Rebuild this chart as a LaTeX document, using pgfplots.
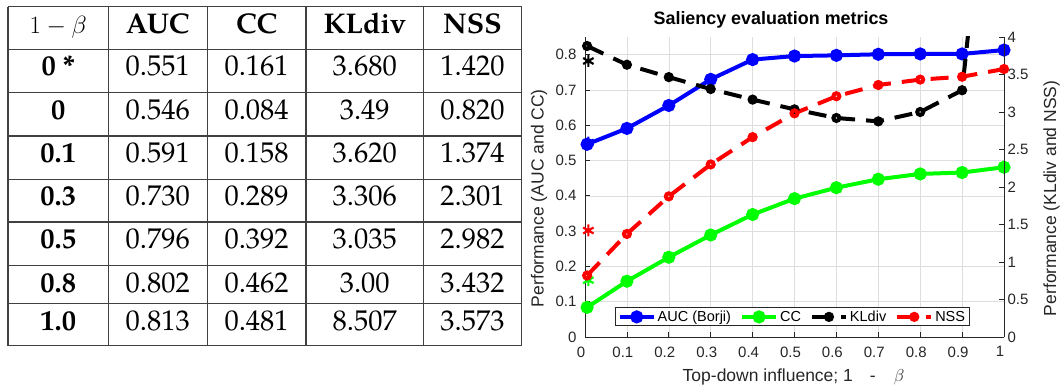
\documentclass[border=0pt]{standalone}
\usepackage{fontspec}
\setmainfont{Liberation Sans}
\newfontfamily\pag{TeX Gyre Pagella}
\usepackage{pgfplots}
\pgfplotsset{compat=1.18}
\definecolor{axgray}{gray}{0.15}
\definecolor{tabline}{gray}{0.25}
\definecolor{mblue}{rgb}{0,0,1}
\definecolor{mgreen}{rgb}{0,1,0}
\definecolor{mred}{rgb}{1,0,0}
\begin{document}
\begin{tikzpicture}[x=1pt,y=1pt]
\path[use as bounding box] (0,0) rectangle (1062,387);
\tikzset{tab/.style={anchor=base, inner sep=0pt, font=\pag\fontsize{28.5}{32}\selectfont}}
% ---- table ----
\foreach \x in {8.1,108.2,207.2,306,423.3,521.6} \draw[tabline, line width=1.3pt] (\x,41.2) -- (\x,380.2);
\foreach \y in {380.2,337.3,294.7,251.1,207.8,164.9,121.6,83.8,41.2} \draw[tabline, line width=1.3pt] (8.1,\y) -- (521.6,\y);
\node[tab] at (58.2,353.9) {$1-\beta$};
\node[tab] at (157.7,353.9) {\bfseries AUC};
\node[tab] at (256.6,353.9) {\bfseries CC};
\node[tab] at (364.7,353.9) {\bfseries KLdiv};
\node[tab] at (472.5,353.9) {\bfseries NSS};
\foreach \y/\a/\b/\c/\d/\e in {311/0 */0.551/0.161/3.680/1.420,
  267/0/0.546/0.084/3.49/0.820,
  224/0.1/0.591/0.158/3.620/1.374,
  181/0.3/0.730/0.289/3.306/2.301,
  138/0.5/0.796/0.392/3.035/2.982,
  94.6/0.8/0.802/0.462/3.00/3.432,
  56.4/1.0/0.813/0.481/8.507/3.573}{
  \node[tab] at (58.2,\y) {\bfseries \a};
  \node[tab] at (157.7,\y) {\b};
  \node[tab] at (256.6,\y) {\c};
  \node[tab] at (364.7,\y) {\d};
  \node[tab] at (472.5,\y) {\e};
}
% ---- chart ----
\pgfplotsset{
  common/.style={
    at={(585pt,50pt)}, anchor=south west, scale only axis, width=419pt, height=300pt,
    xmin=0, xmax=1,
    tick align=inside, major tick length=5pt,
    axis line style={axgray, line width=0.8pt}, tick style={axgray, line width=0.8pt},
    ticklabel style={font=\fontsize{15}{18}\selectfont, text=axgray},
    /pgf/number format/assume math mode=true,
    label style={font=\fontsize{17.5}{20}\selectfont, text=axgray},
  }
}
\begin{axis}[common,
  ymin=0, ymax=0.85,
  axis x line*=bottom, axis y line*=left,
  xtick={0,0.1,0.2,0.3,0.4,0.5,0.6,0.7,0.8,0.9,1},
  ytick={0,0.1,0.2,0.3,0.4,0.5,0.6,0.7,0.8},
  grid=major, grid style={black!13, line width=0.6pt},
  xticklabel style={yshift=-6pt, xshift=-4pt},
  yticklabel style={xshift=-5pt},
  title={Saliency evaluation metrics},
  title style={at={(axis description cs:0.444,1.0217)}, anchor=base, inner sep=0pt, font=\bfseries\fontsize{17.9}{20}\selectfont},
  xlabel={Top-down influence; 1\hspace{17pt}-\hspace{18pt}$\beta$},
  xlabel style={at={(axis description cs:0.4976,-0.15)}, anchor=base, inner sep=0pt},
  ylabel={Performance (AUC and CC)},
  ylabel style={at={(axis description cs:-0.1098,0.463)}, anchor=center, inner sep=0pt},
]
\addplot[mblue, line width=4pt, mark=*, mark size=4.5pt, mark options={solid}] coordinates {
 (0.005,0.546) (0.1,0.591) (0.2,0.656) (0.3,0.730) (0.4,0.786) (0.5,0.796) (0.6,0.798) (0.7,0.801) (0.8,0.802) (0.9,0.802) (1,0.813)};
\addplot[mblue, only marks, mark=asterisk, mark size=6pt, mark options={line width=2.2pt}, forget plot] coordinates {(0.008,0.551)};
\addplot[mgreen, line width=4pt, mark=*, mark size=4.5pt, mark options={solid}] coordinates {
 (0.005,0.084) (0.1,0.158) (0.2,0.226) (0.3,0.289) (0.4,0.347) (0.5,0.392) (0.6,0.423) (0.7,0.447) (0.8,0.462) (0.9,0.466) (1,0.481)};
\addplot[mgreen, only marks, mark=asterisk, mark size=6pt, mark options={line width=2.2pt}, forget plot] coordinates {(0.008,0.161)};
\end{axis}
\begin{axis}[common,
  ymin=0, ymax=4,
  axis x line=none, axis y line*=right,
  ytick={0,0.5,1,1.5,2,2.5,3,3.5,4},
  ylabel={Performance (KLdiv and NSS)},
  ylabel style={at={(axis description cs:1.1134,0.462)}, anchor=center, inner sep=0pt},
  legend columns=4,
  legend style={at={(axis description cs:0.495,0.067)}, anchor=center, draw=axgray, line width=0.8pt, fill=white,
    font=\fontsize{14.5}{16}\selectfont, inner xsep=2pt, inner ysep=1pt, nodes={inner sep=2pt},
    /tikz/every even column/.append style={column sep=7pt}},
  legend cell align=left,
  legend image code/.code={\draw[mark repeat=2,mark phase=2,#1] plot coordinates {(0pt,0pt) (17pt,0pt) (34pt,0pt)};},
]
\addlegendimage{mblue, line width=4pt, mark=*, mark size=4.5pt, mark options={solid}}
\addlegendentry{AUC (Borji)}
\addlegendimage{mgreen, line width=4pt, mark=*, mark size=4.5pt, mark options={solid}}
\addlegendentry{CC}
\addplot[black, line width=4pt, dash pattern=on 18pt off 11pt, mark=o, mark size=3pt, mark options={solid, line width=4pt}] coordinates {
 (0.005,3.88) (0.1,3.63) (0.2,3.465) (0.3,3.306) (0.4,3.165) (0.5,3.035) (0.6,2.92) (0.7,2.875) (0.8,3.00) (0.9,3.29) (1,8.507)};
\addlegendentry{KLdiv}
\addplot[mred, line width=4pt, dash pattern=on 18pt off 11pt, mark=o, mark size=3pt, mark options={solid, line width=4pt}] coordinates {
 (0.005,0.820) (0.1,1.374) (0.2,1.875) (0.3,2.301) (0.4,2.665) (0.5,2.982) (0.6,3.21) (0.7,3.36) (0.8,3.432) (0.9,3.47) (1,3.573)};
\addlegendentry{NSS}
\addplot[black, only marks, mark=asterisk, mark size=6pt, mark options={line width=2.2pt}, forget plot] coordinates {(0.008,3.68)};
\addplot[mred, only marks, mark=asterisk, mark size=6pt, mark options={line width=2.2pt}, forget plot] coordinates {(0.008,1.42)};
\end{axis}
\end{tikzpicture}
\end{document}
